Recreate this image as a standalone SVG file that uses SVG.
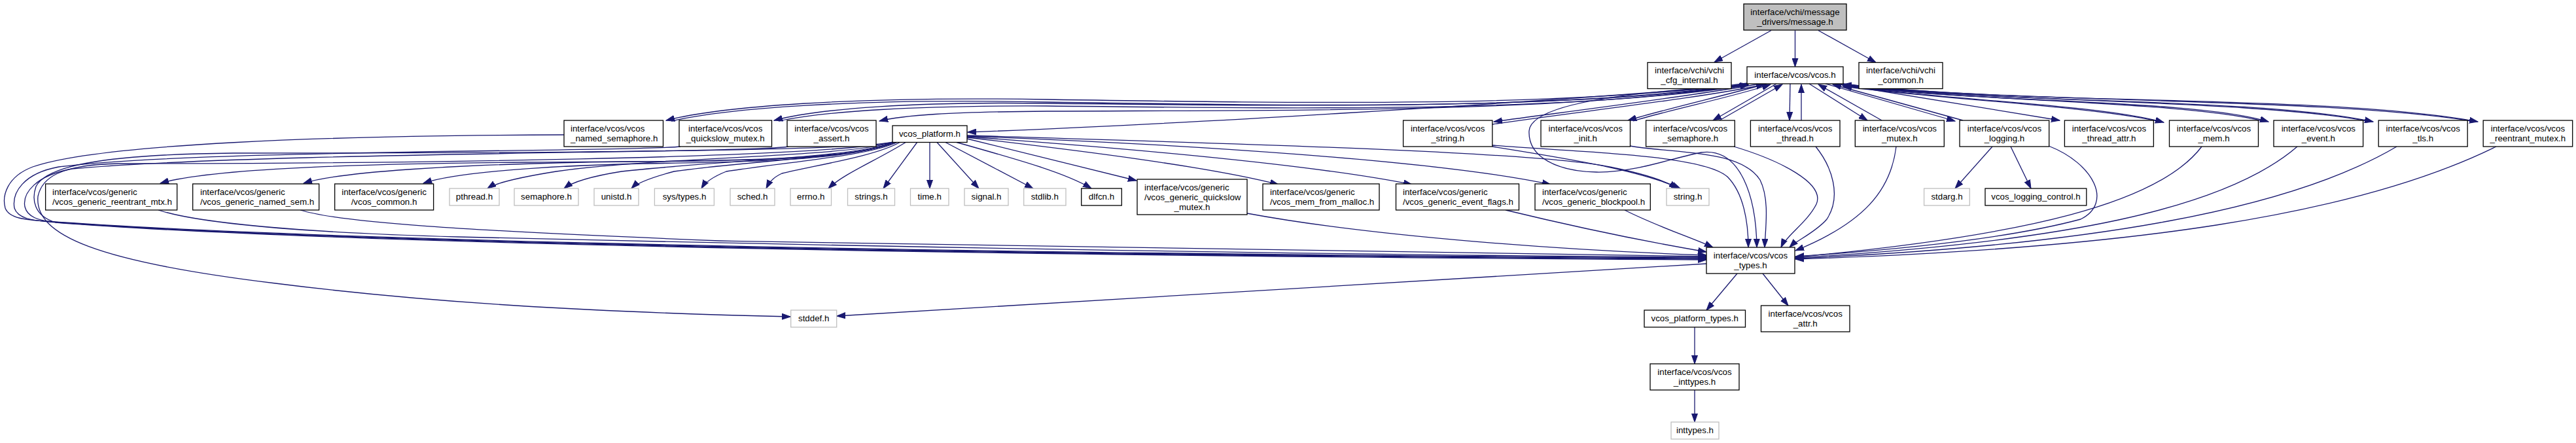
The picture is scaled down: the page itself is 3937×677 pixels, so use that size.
<svg xmlns="http://www.w3.org/2000/svg" width="3937" height="677" viewBox="0 0 3937 677">
<style>
text{font-family:"Liberation Sans",Arial,Helvetica,sans-serif;font-size:13.33px;fill:#000}
.c{text-anchor:middle}
.l{text-anchor:start}
rect{fill:#fff;stroke:#000;stroke-width:1.3}
.g rect{stroke:#bfbfbf}
.root rect{fill:#bfbfbf}
.e path{fill:none;stroke:#191970;stroke-width:1.3;marker-end:url(#ah)}
</style>
<defs>
<marker id="ah" viewBox="0 0 14 10" refX="13" refY="5" markerWidth="14" markerHeight="10" markerUnits="userSpaceOnUse" orient="auto">
<path d="M0,0.5 L13,5 L0,9.5 z" fill="#191970" stroke="#191970" stroke-width="1"/>
</marker>
</defs>
<rect x="0" y="0" width="3937" height="677" style="fill:#fff;stroke:none"/>
<g id="connectors" class="e">
<path d="M2707,46.5 L2620,95"/>
<path d="M2743.5,46.5 L2743.5,102"/>
<path d="M2779,46.5 L2867,95.5"/>
<path d="M2690,128 C2600,145 2400,170 2283,186"/>
<path d="M2281,190 C2400,172 2600,150 2697,129"/>
<path d="M2700,128 C2640,145 2540,168 2488,184"/>
<path d="M2496,185 C2550,168 2650,148 2706,129"/>
<path d="M2715,128 L2618,184"/>
<path d="M2628,184 L2724,129"/>
<path d="M2736,128 L2735,184"/>
<path d="M2753,184 L2753,129"/>
<path d="M2765,128 L2854,184"/>
<path d="M2876,184 L2779,129"/>
<path d="M2790,128 L2988,185"/>
<path d="M3000,184 L2801,129"/>
<path d="M2812,129 L3148,184"/>
<path d="M2815,130 C2950,152 3200,158 3307,187"/>
<path d="M3297,185 C3190,162 2950,150 2817,132"/>
<path d="M2816,129 C3000,158 3350,150 3467,186"/>
<path d="M3458,185 C3340,155 3000,154 2817,131"/>
<path d="M2816,128 C3050,160 3450,148 3627,186"/>
<path d="M3618,185 C3440,152 3050,157 2817,130"/>
<path d="M2816,128 C3100,162 3550,143 3787,186"/>
<path d="M3778,185 C3540,148 3100,159 2817,129"/>
<path d="M2670,130 C2300,160 1800,190 1479,202"/>
<path d="M2671,129 C2400,172 2000,168 1600,170 C1450,171 1380,176 1344,185"/>
<path d="M2671,128 C2400,168 2000,162 1600,158 C1400,155 1250,166 1183,184"/>
<path d="M1190,185 C1260,170 1400,161 1600,162 C2000,166 2400,172 2672,130"/>
<path d="M2671,127 C2400,164 2000,158 1600,152 C1300,147 1100,163 1018,184"/>
<path d="M1026,185 C1110,166 1300,150 1600,156 C2000,162 2400,168 2672,129"/>
<path d="M862,206 C500,207 150,220 50,255 C10,270 3,300 8,318 C14,334 40,336 70,338 C400,362 1200,386 2608,394"/>
<path d="M1040,224 C980,232 300,228 90,255 C35,265 18,295 22,318 C27,334 50,337 75,339 C400,363 1200,387 2608,395"/>
<path d="M1205,224 C1150,234 400,232 110,258 C55,268 34,295 38,316 C42,332 60,337 80,339 C400,364 1200,388 2608,396"/>
<path d="M1366,217 C1300,232 700,234 357,234 C150,236 70,255 55,285 C48,305 52,330 85,340 C400,365 1200,389 2608,397"/>
<path d="M1366,217 C1250,242 600,250 180,250 C90,252 64,272 58,300 C52,360 150,400 421,433 C650,462 900,477 1208,484"/>
<path d="M242,321 C300,340 450,355 700,362 C1200,374 2000,390 2608,393"/>
<path d="M459,321 C520,340 700,352 1100,368 C1600,380 2100,388 2608,392"/>
<path d="M1906,326 C2100,362 2400,383 2608,390"/>
<path d="M2301,321 C2400,345 2520,370 2608,385"/>
<path d="M2483,321 C2530,345 2590,365 2618,378"/>
<path d="M1366,217 C1300,250 1000,246 804,248 C600,250 330,255 245,280"/>
<path d="M1366,217 C1300,250 1050,245 893,248 C700,252 520,262 464,280"/>
<path d="M1366,217 C1300,248 1100,248 982,250 C850,253 700,262 647,280"/>
<path d="M1366,217 C1300,240 1000,240 850,262 C800,270 760,278 745,288"/>
<path d="M1368,217 C1300,242 1100,245 950,262 C900,270 875,278 862,288"/>
<path d="M1370,217 C1320,240 1150,245 1030,262 C1000,270 975,278 965,288"/>
<path d="M1372,217 C1330,238 1200,248 1110,262 C1090,270 1078,278 1072,288"/>
<path d="M1376,217 C1340,238 1250,252 1195,265 C1180,272 1175,280 1171,288"/>
<path d="M1385,217 C1340,245 1290,265 1266,288"/>
<path d="M1402,217 L1350,288"/>
<path d="M1421,217.5 L1421,288"/>
<path d="M1432,217.5 L1496,288"/>
<path d="M1445,217.5 L1579,288"/>
<path d="M1462,217.5 C1560,245 1630,265 1668,288"/>
<path d="M1478,212 L1737,276"/>
<path d="M1478,210 C1650,230 1850,255 1954,282"/>
<path d="M1478,209 C1700,225 2000,250 2158,282"/>
<path d="M1478,208 C1800,220 2200,245 2370,282"/>
<path d="M1478,207 C1900,220 2350,232 2460,255 C2510,265 2545,276 2564,288"/>
<path d="M2281,224 C2380,240 2500,258 2568,288"/>
<path d="M2281,222 C2400,232 2600,235 2640,270 C2665,295 2672,340 2672,378"/>
<path d="M2672,131 C2480,140 2340,160 2337,200 C2335,240 2380,262 2440,263 C2500,264 2560,240 2600,233 C2660,225 2684,300 2685,378"/>
<path d="M2491,223 C2560,235 2660,228 2690,275 C2705,305 2698,350 2697,378"/>
<path d="M2650,224 C2720,245 2790,280 2776,312 C2762,340 2730,360 2722,378"/>
<path d="M2775,224 C2800,255 2815,300 2792,335 C2775,355 2745,368 2735,378"/>
<path d="M2898,224 C2890,290 2850,340 2744,383"/>
<path d="M3131,223 C3200,250 3230,310 3180,335 C3050,370 2850,385 2744,392"/>
<path d="M3365,224 C3300,310 3100,360 2744,393"/>
<path d="M3511,224 C3400,320 3150,370 2744,394"/>
<path d="M3663,224 C3500,320 3200,375 2744,395"/>
<path d="M3815,224 C3600,330 3250,380 2744,396"/>
<path d="M3045,224 L2988,288"/>
<path d="M3073,224 L3104,288"/>
<path d="M2608,403 L1279,483"/>
<path d="M2655,418 L2608,474"/>
<path d="M2694,418 L2733,467"/>
<path d="M2590,500 L2590,556"/>
<path d="M2590,596 L2590,645"/>
</g>
<g id="n_message" class="root"><rect x="2665" y="6" width="157" height="40"/><text class="c" x="2743.5" y="22.5">interface/vchi/message</text><text class="c" x="2743.5" y="37.5">_drivers/message.h</text></g>
<g id="n_cfg_internal"><rect x="2518" y="95.5" width="128" height="40"/><text class="c" x="2582" y="112">interface/vchi/vchi</text><text class="c" x="2582" y="127">_cfg_internal.h</text></g>
<g id="n_vcos"><rect x="2670" y="102" width="147" height="26"/><text class="c" x="2743.5" y="119">interface/vcos/vcos.h</text></g>
<g id="n_vchi_common"><rect x="2841" y="95.5" width="128" height="40"/><text class="c" x="2905" y="112">interface/vchi/vchi</text><text class="c" x="2905" y="127">_common.h</text></g>
<g id="n_named_semaphore"><rect x="862" y="184" width="151.5" height="40"/><text class="l" x="872" y="200.5">interface/vcos/vcos</text><text class="l" x="872" y="215.5">_named_semaphore.h</text></g>
<g id="n_quickslow_mutex"><rect x="1038" y="184" width="141.5" height="40"/><text class="c" x="1108.7" y="200.5">interface/vcos/vcos</text><text class="c" x="1108.7" y="215.5">_quickslow_mutex.h</text></g>
<g id="n_assert"><rect x="1203" y="184" width="136" height="40"/><text class="c" x="1271" y="200.5">interface/vcos/vcos</text><text class="c" x="1271" y="215.5">_assert.h</text></g>
<g id="n_platform"><rect x="1364" y="192" width="114" height="25.5"/><text class="c" x="1421" y="209">vcos_platform.h</text></g>
<g id="n_string"><rect x="2144.6" y="184" width="136.2" height="40"/><text class="c" x="2212.7" y="200.5">interface/vcos/vcos</text><text class="c" x="2212.7" y="215.5">_string.h</text></g>
<g id="n_init"><rect x="2355" y="184" width="136.5" height="40"/><text class="c" x="2423.2" y="200.5">interface/vcos/vcos</text><text class="c" x="2423.2" y="215.5">_init.h</text></g>
<g id="n_semaphore"><rect x="2515.6" y="184" width="135.7" height="40"/><text class="c" x="2583.5" y="200.5">interface/vcos/vcos</text><text class="c" x="2583.5" y="215.5">_semaphore.h</text></g>
<g id="n_thread"><rect x="2675.4" y="184" width="136.6" height="40"/><text class="c" x="2743.7" y="200.5">interface/vcos/vcos</text><text class="c" x="2743.7" y="215.5">_thread.h</text></g>
<g id="n_mutex"><rect x="2835.3" y="184" width="136" height="40"/><text class="c" x="2903.3" y="200.5">interface/vcos/vcos</text><text class="c" x="2903.3" y="215.5">_mutex.h</text></g>
<g id="n_logging"><rect x="2995" y="184" width="136.7" height="40"/><text class="c" x="3063.4" y="200.5">interface/vcos/vcos</text><text class="c" x="3063.4" y="215.5">_logging.h</text></g>
<g id="n_thread_attr"><rect x="3155.4" y="184" width="136" height="40"/><text class="c" x="3223.4" y="200.5">interface/vcos/vcos</text><text class="c" x="3223.4" y="215.5">_thread_attr.h</text></g>
<g id="n_mem"><rect x="3315.5" y="184" width="136" height="40"/><text class="c" x="3383.5" y="200.5">interface/vcos/vcos</text><text class="c" x="3383.5" y="215.5">_mem.h</text></g>
<g id="n_event"><rect x="3475" y="184" width="136.6" height="40"/><text class="c" x="3543.3" y="200.5">interface/vcos/vcos</text><text class="c" x="3543.3" y="215.5">_event.h</text></g>
<g id="n_tls"><rect x="3635.2" y="184" width="136" height="40"/><text class="c" x="3703.2" y="200.5">interface/vcos/vcos</text><text class="c" x="3703.2" y="215.5">_tls.h</text></g>
<g id="n_reentrant_mutex"><rect x="3795.2" y="184" width="136.5" height="40"/><text class="c" x="3863.4" y="200.5">interface/vcos/vcos</text><text class="c" x="3863.4" y="215.5">_reentrant_mutex.h</text></g>
<g id="n_gen_reentrant_mtx"><rect x="69.6" y="281" width="201" height="40"/><text class="l" x="80" y="297.5">interface/vcos/generic</text><text class="l" x="80" y="312.5">/vcos_generic_reentrant_mtx.h</text></g>
<g id="n_gen_named_sem"><rect x="294.6" y="281" width="193" height="40"/><text class="l" x="306" y="297.5">interface/vcos/generic</text><text class="l" x="306" y="312.5">/vcos_generic_named_sem.h</text></g>
<g id="n_gen_common"><rect x="511.6" y="281" width="151" height="40"/><text class="c" x="587" y="297.5">interface/vcos/generic</text><text class="c" x="587" y="312.5">/vcos_common.h</text></g>
<g id="n_pthread" class="g"><rect x="687" y="288" width="76" height="26"/><text class="c" x="725" y="305">pthread.h</text></g>
<g id="n_semaphore_h" class="g"><rect x="786" y="288" width="98" height="26"/><text class="c" x="835" y="305">semaphore.h</text></g>
<g id="n_unistd" class="g"><rect x="908" y="288" width="68" height="26"/><text class="c" x="942" y="305">unistd.h</text></g>
<g id="n_systypes" class="g"><rect x="1000.4" y="288" width="91" height="26"/><text class="c" x="1046" y="305">sys/types.h</text></g>
<g id="n_sched" class="g"><rect x="1116" y="288" width="68" height="26"/><text class="c" x="1150" y="305">sched.h</text></g>
<g id="n_errno" class="g"><rect x="1208" y="288" width="62.5" height="26"/><text class="c" x="1239.2" y="305">errno.h</text></g>
<g id="n_strings" class="g"><rect x="1295.5" y="288" width="72" height="26"/><text class="c" x="1331.5" y="305">strings.h</text></g>
<g id="n_time" class="g"><rect x="1391.5" y="288" width="58.5" height="26"/><text class="c" x="1420.7" y="305">time.h</text></g>
<g id="n_signal" class="g"><rect x="1474" y="288" width="67" height="26"/><text class="c" x="1507.5" y="305">signal.h</text></g>
<g id="n_stdlib" class="g"><rect x="1564.7" y="288" width="64.3" height="26"/><text class="c" x="1596.8" y="305">stdlib.h</text></g>
<g id="n_dlfcn"><rect x="1652.7" y="288" width="61.6" height="26"/><text class="c" x="1683.5" y="305">dlfcn.h</text></g>
<g id="n_gen_quickslow"><rect x="1738" y="274" width="168" height="54"/><text class="l" x="1749" y="290.5">interface/vcos/generic</text><text class="l" x="1749" y="305.5">/vcos_generic_quickslow</text><text class="c" x="1822" y="320.5">_mutex.h</text></g>
<g id="n_mem_from_malloc"><rect x="1930" y="281" width="178" height="40"/><text class="l" x="1941" y="297.5">interface/vcos/generic</text><text class="l" x="1941" y="312.5">/vcos_mem_from_malloc.h</text></g>
<g id="n_event_flags"><rect x="2133.5" y="281" width="188" height="40"/><text class="l" x="2144" y="297.5">interface/vcos/generic</text><text class="l" x="2144" y="312.5">/vcos_generic_event_flags.h</text></g>
<g id="n_blockpool"><rect x="2346" y="281" width="176.3" height="40"/><text class="l" x="2357" y="297.5">interface/vcos/generic</text><text class="l" x="2357" y="312.5">/vcos_generic_blockpool.h</text></g>
<g id="n_string_h" class="g"><rect x="2547" y="288" width="65" height="26"/><text class="c" x="2579.5" y="305">string.h</text></g>
<g id="n_stdarg" class="g"><rect x="2940.6" y="288" width="69.7" height="26"/><text class="c" x="2975.5" y="305">stdarg.h</text></g>
<g id="n_logging_control"><rect x="3034" y="288" width="154.8" height="26"/><text class="c" x="3111.4" y="305">vcos_logging_control.h</text></g>
<g id="n_types"><rect x="2608" y="378" width="135" height="40"/><text class="c" x="2675.5" y="394.5">interface/vcos/vcos</text><text class="c" x="2675.5" y="409.5">_types.h</text></g>
<g id="n_stddef" class="g"><rect x="1208.7" y="474" width="70" height="26"/><text class="c" x="1243.7" y="491">stddef.h</text></g>
<g id="n_platform_types"><rect x="2513" y="474" width="154.5" height="26"/><text class="c" x="2590.2" y="491">vcos_platform_types.h</text></g>
<g id="n_attr"><rect x="2691.5" y="467" width="135.5" height="40"/><text class="c" x="2759.2" y="483.5">interface/vcos/vcos</text><text class="c" x="2759.2" y="498.5">_attr.h</text></g>
<g id="n_vcos_inttypes"><rect x="2522" y="556" width="136" height="40"/><text class="c" x="2590" y="572.5">interface/vcos/vcos</text><text class="c" x="2590" y="587.5">_inttypes.h</text></g>
<g id="n_inttypes" class="g"><rect x="2554" y="645" width="73" height="26"/><text class="c" x="2590.5" y="662">inttypes.h</text></g>
</svg>
